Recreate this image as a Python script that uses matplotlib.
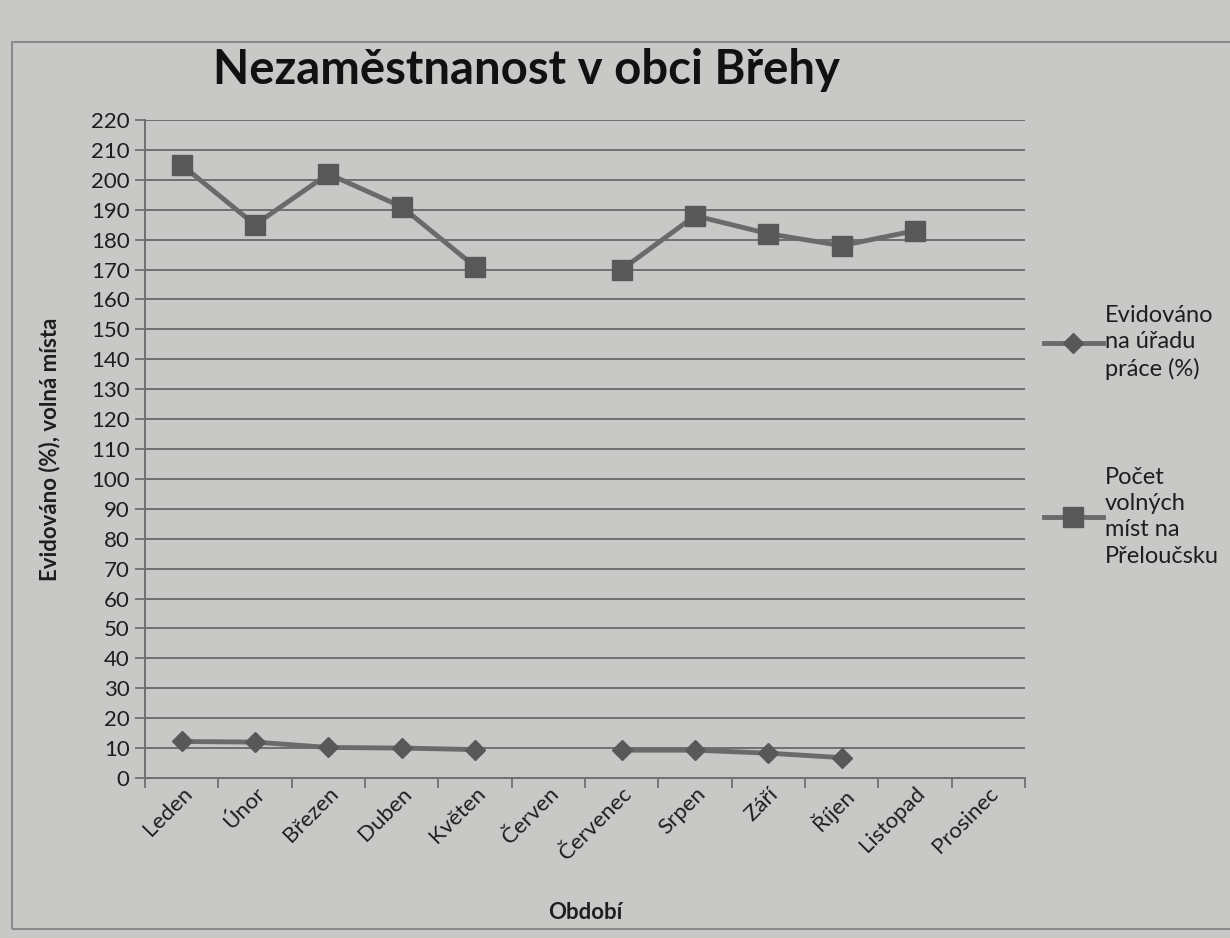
import numpy as np
import matplotlib.pyplot as plt
from matplotlib.patches import Rectangle

plt.rcParams['font.family'] = ['Lato', 'DejaVu Sans']

# data
mesice = ['Leden', 'Únor', 'Březen', 'Duben', 'Květen', 'Červen',
          'Červenec', 'Srpen', 'Září', 'Říjen', 'Listopad', 'Prosinec']
evidovano = [12.2, 12.0, 10.2, 10.0, 9.5, np.nan, 9.3, 9.3, 8.3, 6.8, np.nan, np.nan]
volna_mista = [205, 185, 202, 191, 171, np.nan, 170, 188, 182, 178, 183, np.nan]
y_ticks = list(range(0, 221, 10))

bg = '#c8c8c6'
line_col = '#6a6a6a'
mark_col = '#585858'
text_col = '#1e1e1e'

fig = plt.figure(figsize=(12.3, 9.38), dpi=100, facecolor=bg)
ax = fig.add_axes([0.1179, 0.1706, 0.7154, 0.7014], facecolor=bg)

# chart frame like the printed Excel box
fig.patches.append(Rectangle((0.01, 0.01), 1.2, 0.945, transform=fig.transFigure,
                             fill=False, edgecolor='#8a8a8a', linewidth=1.5))

x = np.arange(len(mesice))
ax.plot(x, evidovano, color=line_col, lw=3.5, marker='D', ms=10,
        mfc=mark_col, mec=mark_col, label='Evidováno\nna úřadu\npráce (%)')
ax.plot(x, volna_mista, color=line_col, lw=3.5, marker='s', ms=14,
        mfc=mark_col, mec=mark_col, label='Počet\nvolných\nmíst na\nPřeloučsku')

ax.set_xlim(-0.5, len(mesice) - 0.5)
ax.set_ylim(0, 220)
ax.set_yticks(y_ticks)
ax.yaxis.grid(True, color='#6f6f6f', lw=1.4)
ax.set_axisbelow(True)

ax.set_xticks(x)
ax.set_xticklabels(mesice, rotation=45, ha='right', rotation_mode='anchor',
                   fontsize=16, color=text_col)
ax.set_xticks(np.arange(-0.5, len(mesice)), minor=True)
ax.tick_params(axis='x', which='major', length=0, pad=4)
ax.tick_params(axis='x', which='minor', length=7, width=1.3, color='#6f6f6f')
ax.tick_params(axis='y', length=7, width=1.3, color='#6f6f6f', labelsize=16,
               labelcolor=text_col, pad=4)

for s in ['top', 'right']:
    ax.spines[s].set_visible(False)
for s in ['left', 'bottom']:
    ax.spines[s].set_color('#6f6f6f')
    ax.spines[s].set_linewidth(1.4)

ax.set_xlabel('Období', fontsize=16, fontweight='bold', color=text_col, labelpad=28)
ax.set_ylabel('Evidováno (%), volná místa', fontsize=16, fontweight='bold',
              color=text_col, labelpad=22)
fig.text(0.428, 0.925, 'Nezaměstnanost v obci Břehy', ha='center', va='center',
         fontsize=34, fontweight='bold', color='#111111')

leg = ax.legend(loc='center left', bbox_to_anchor=(0.997, 0.52), frameon=False,
                fontsize=17, handlelength=2.5, labelspacing=3.7, handletextpad=0.1,
                labelcolor=text_col)
for t in leg.get_texts():
    t.set_linespacing(1.3)

fig.savefig('out.png', dpi=100, facecolor=bg)
